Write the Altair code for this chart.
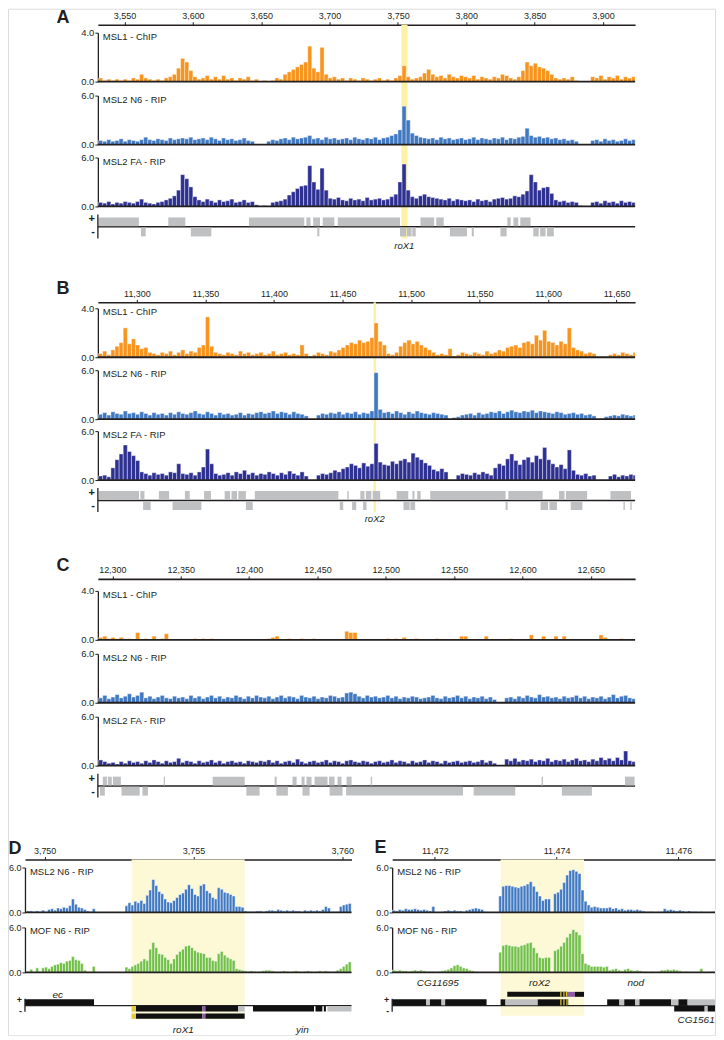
import altair as alt
import pandas as pd

FONT = "Liberation Sans"
INK = "#231F20"
ORANGE = "#F7941D"
BLUE = "#4079C2"
NAVY = "#2E3192"
GREEN = "#71BF46"
GRAY = "#BEC0C2"
HL_STRONG = "#FCF1A6"
HL_SOFT = "#FDF9D6"
KIND_COLOR = {"k": "#111111", "g": GRAY, "y": "#E2CC3B", "p": "#8E5BA8"}

# ---------------- Panel A (kb) ----------------
A_DOMAIN = [3530.5, 3923.5]
A_TICKS = [3550, 3600, 3650, 3700, 3750, 3800, 3850, 3900]
A_START, A_STEP = 3531, 3
A_HL = [3752.5, 3757.0]
A_MSL1 = [0.3,0.1,0.2,0.1,0.2,0.1,0.2,0.1,0.3,0.2,
          0.6,0.3,0.2,0.1,0.2,0.1,0.3,0.4,0.6,1.1,
          1.9,1.6,0.9,0.4,0.2,0.3,0.5,0.2,0.4,0.2,
          0.5,0.2,0.3,0.1,0.3,0.2,0.4,0.1,0.2,0.0,
          0.1,0.0,0.1,0.3,0.2,0.6,0.8,1.0,1.2,1.4,
          1.6,2.9,1.1,0.8,2.8,0.6,0.3,0.4,0.2,0.3,
          0.1,0.3,0.2,0.1,0.3,0.2,0.1,0.2,0.3,0.1,
          0.2,0.1,0.3,0.5,1.3,0.4,0.2,0.3,0.4,0.7,
          1.0,0.6,0.4,0.5,0.3,0.6,0.4,0.3,0.5,0.4,
          0.3,0.5,0.2,0.4,0.3,0.2,0.4,0.3,0.6,0.5,
          0.3,0.2,0.4,0.9,1.6,1.3,1.5,1.2,1.1,0.9,
          0.6,0.3,0.2,0.3,0.2,0.4,0.1,0.0,0.0,0.0,
          0.4,0.3,0.5,0.2,0.4,0.3,0.5,0.2,0.4,0.3,0.4]
A_N6 = [0.5,0.4,0.6,0.4,0.5,0.7,0.4,0.6,0.5,0.4,
        0.6,0.9,0.6,0.5,0.7,0.6,0.5,0.8,0.6,0.7,
        0.8,0.7,0.9,0.6,0.7,0.8,0.6,0.9,0.7,0.5,
        0.8,0.6,0.7,0.5,0.6,0.8,0.5,0.4,0.0,0.0,
        0.0,0.4,0.6,0.5,0.7,0.8,0.6,0.9,0.7,0.8,
        0.9,1.1,0.7,0.8,0.6,0.9,0.7,0.8,0.6,0.7,
        0.8,0.6,0.9,0.7,0.6,0.8,0.7,0.9,0.6,0.8,
        0.9,1.1,1.3,1.8,4.7,3.0,1.4,1.1,0.9,0.8,
        0.7,0.8,0.6,0.9,0.7,0.8,0.6,0.7,0.8,0.6,
        0.7,0.9,0.6,0.8,0.7,0.6,0.8,0.7,0.9,0.6,
        0.8,0.7,0.9,1.0,2.0,1.1,0.9,1.0,0.8,0.9,
        0.7,0.8,0.6,0.7,0.5,0.6,0.4,0.0,0.0,0.0,
        0.5,0.6,0.4,0.7,0.5,0.6,0.4,0.5,0.7,0.5,0.6]
A_FA = [0.5,0.4,0.6,0.3,0.5,0.4,0.6,0.5,0.4,0.6,
        0.9,0.5,0.4,0.3,0.5,0.6,0.8,1.0,1.3,2.0,
        3.9,3.4,2.4,1.2,0.8,0.6,0.9,0.7,0.5,0.8,
        0.6,0.7,0.9,0.5,0.6,0.8,0.5,0.6,0.2,0.0,
        0.1,0.0,0.5,0.6,0.7,0.9,1.4,1.8,2.2,2.5,
        2.6,5.0,3.0,2.1,4.7,2.0,1.0,0.9,1.1,0.8,
        0.7,1.0,0.8,0.9,0.7,1.1,0.8,0.9,1.0,0.8,
        0.9,1.2,1.5,3.0,5.2,2.0,1.2,1.0,1.3,1.5,
        1.2,1.1,1.0,0.9,0.8,1.0,0.7,0.9,0.8,0.7,
        0.8,0.6,0.9,0.7,0.8,0.6,0.9,1.0,1.1,0.9,
        1.0,1.3,1.2,1.5,1.9,3.9,3.0,2.0,2.3,2.4,
        1.6,0.8,0.6,0.7,0.5,0.6,0.5,0.1,0.0,0.0,
        0.5,0.6,0.4,0.7,0.5,0.6,0.4,0.7,0.5,0.6,0.5]
A_PLUS = [[3531,3560.5],[3582,3594.5],[3641,3681.5],[3683,3686],[3688,3693],[3695,3703.5],
          [3706,3751.5],[3766.5,3776.5],[3778,3783.5],[3830,3832.5],[3834.5,3838],[3839.5,3847]]
A_MINUS = [[3562,3565.5],[3598.5,3613.5],[3691,3692.5],[3751.5,3756],[3756.5,3760],[3760.5,3763],
           [3788,3800.5],[3804,3805.5],[3825,3829.5],[3849,3853],[3854,3858],[3859,3864]]
A_NAMES = [["roX1", 3754.7, "below"]]

# ---------------- Panel B (kb) ----------------
B_DOMAIN = [11271.5, 11663.5]
B_TICKS = [11300, 11350, 11400, 11450, 11500, 11550, 11600, 11650]
B_START, B_STEP = 11272, 3
B_HL = [11472.6, 11474.4]
B_MSL1 = [0.3,0.5,0.2,0.6,0.9,1.2,2.4,1.1,1.5,1.0,
          0.7,0.8,0.4,0.3,0.2,0.4,0.3,0.5,0.2,0.4,
          0.6,0.3,0.5,0.4,0.8,1.0,3.3,0.9,0.4,0.3,
          0.2,0.4,0.3,0.2,0.5,0.3,0.4,0.2,0.3,0.4,
          0.2,0.3,0.5,0.2,0.3,0.4,0.2,0.3,0.2,1.0,
          0.3,0.1,0.2,0.4,0.3,0.2,0.5,0.4,0.6,0.8,
          1.0,1.2,1.1,1.4,1.2,1.3,1.6,2.8,1.3,1.0,
          0.3,0.2,0.4,0.9,1.2,1.4,1.1,1.3,1.0,0.8,
          0.6,0.4,0.2,0.3,0.2,0.7,0.1,0.2,0.4,0.3,
          0.2,0.4,0.3,0.2,0.5,0.3,0.4,0.6,0.5,0.8,
          0.9,1.0,0.8,1.2,1.3,1.1,1.8,1.4,2.2,1.3,
          1.2,1.0,1.3,1.1,2.4,0.8,0.6,0.5,0.3,0.4,
          0.3,0.0,0.0,0.0,0.2,0.3,0.2,0.4,0.3,0.2,0.4]
B_N6 = [0.6,0.8,0.5,0.9,0.7,0.6,1.0,0.7,0.8,0.6,
        0.9,0.7,0.5,0.8,0.6,0.7,0.5,0.8,0.6,0.9,
        0.7,0.6,0.8,1.0,0.7,0.6,0.9,0.7,0.5,0.8,
        0.6,0.7,0.5,0.6,0.8,0.5,0.7,0.6,0.8,0.9,
        0.7,0.8,1.0,0.7,0.9,0.8,0.6,0.9,0.7,0.6,
        0.4,0.0,0.0,0.5,0.7,0.6,0.8,0.7,0.9,0.6,
        0.8,0.7,0.9,0.6,0.8,0.7,1.0,5.7,1.2,0.8,
        0.9,0.7,1.0,0.8,0.6,0.9,0.7,1.0,0.8,0.7,
        0.6,0.8,0.7,0.6,0.5,0.0,0.2,0.3,0.5,0.6,
        0.7,0.5,0.8,0.6,0.7,0.9,0.8,1.0,0.7,0.9,
        1.1,0.9,0.8,1.0,0.9,1.1,0.8,1.0,0.9,0.8,
        0.7,0.9,0.8,0.6,0.7,0.8,0.6,0.7,0.5,0.6,
        0.4,0.0,0.0,0.3,0.4,0.5,0.4,0.6,0.5,0.4,0.5]
B_FA = [0.5,0.6,0.4,1.5,2.5,3.2,4.3,3.5,3.0,2.4,
        1.0,0.8,0.6,0.9,0.7,0.8,0.6,1.0,0.9,2.0,
        0.8,0.7,0.9,0.6,1.0,1.6,3.8,2.0,0.8,0.6,
        0.7,0.9,0.6,1.0,0.8,1.2,0.7,0.9,0.6,0.8,
        0.7,1.0,0.8,0.6,0.9,0.7,1.1,0.8,0.6,1.0,
        0.5,0.0,0.0,0.6,0.8,0.7,0.9,1.2,1.0,1.4,
        1.6,2.0,1.8,1.5,2.1,1.7,2.0,4.5,2.2,1.9,
        1.8,2.3,2.0,2.4,2.6,2.2,3.3,2.8,2.5,2.1,
        1.8,1.3,1.1,1.4,1.0,0.0,0.0,0.6,0.8,0.7,
        0.6,0.9,0.7,1.0,0.8,0.6,1.5,2.0,1.8,2.6,
        3.2,2.4,1.9,2.5,2.8,2.2,3.0,2.6,4.0,2.5,
        2.0,1.6,1.9,1.4,3.7,1.2,0.7,0.6,0.8,0.5,
        0.6,0.0,0.0,0.0,0.5,0.7,0.4,0.6,0.5,0.7,0.6]
B_PLUS = [[11272,11301.5],[11302.5,11305.5],[11316,11323.5],[11335,11338.5],[11349,11354],
          [11364,11368],[11369,11373],[11374,11379.5],[11386,11447],[11453.5,11454.5],
          [11463,11466],[11467,11471],[11472,11477.5],[11489.5,11498],[11501,11502.5],
          [11504.5,11507],[11514,11569],[11571,11596],[11608,11612],[11613,11628.5],[11645.5,11660.5]]
B_MINUS = [[11304.5,11310],[11326,11347],[11379.5,11384.5],[11448,11450.5],[11457,11460],
           [11465,11467.5],[11494.5,11499],[11499.5,11503],[11569,11570.5],[11594.5,11600],
           [11601,11606.5],[11616.5,11625],[11655,11656],[11660,11661]]
B_NAMES = [["roX2", 11473.5, "below"]]

# ---------------- Panel C (kb) ----------------
C_DOMAIN = [12289.4, 12682.4]
C_TICKS = [12300, 12350, 12400, 12450, 12500, 12550, 12600, 12650]
C_START, C_STEP = 12290, 3
C_MSL1 = [0.2,0.3,0.1,0.2,0.1,0.2,0.0,0.1,0.0,0.6,
          0.0,0.1,0.0,0.3,0.0,0.1,0.5,0.0,0.0,0.0,
          0.0,0.0,0.0,0.1,0.0,0.1,0.0,0.1,0.0,0.0,
          0.0,0.0,0.0,0.0,0.0,0.0,0.0,0.0,0.0,0.0,
          0.0,0.1,0.2,0.3,0.0,0.0,0.1,0.0,0.0,0.1,
          0.0,0.0,0.1,0.0,0.0,0.0,0.0,0.0,0.0,0.0,
          0.7,0.6,0.6,0.0,0.0,0.0,0.0,0.0,0.0,0.0,
          0.1,0.0,0.1,0.0,0.2,0.0,0.0,0.1,0.0,0.0,
          0.0,0.0,0.1,0.0,0.0,0.0,0.0,0.0,0.3,0.3,
          0.0,0.0,0.0,0.0,0.3,0.0,0.0,0.0,0.0,0.0,
          0.1,0.0,0.0,0.0,0.0,0.4,0.0,0.0,0.3,0.0,
          0.0,0.3,0.0,0.3,0.0,0.0,0.0,0.0,0.0,0.0,
          0.0,0.0,0.4,0.2,0.0,0.0,0.0,0.1,0.0,0.0,0.0]
C_N6 = [0.6,0.9,0.5,0.7,1.0,0.6,0.8,1.1,0.7,0.9,
        1.3,0.6,0.8,0.5,0.7,0.9,0.6,0.5,0.8,0.6,
        0.7,0.5,0.9,0.6,0.8,0.5,0.7,0.9,0.6,0.8,
        0.5,0.7,0.6,0.9,0.7,0.5,0.8,0.6,0.9,0.7,
        0.6,0.8,0.5,0.7,0.9,0.6,0.8,0.7,0.5,0.9,
        0.7,0.6,0.8,0.5,0.7,0.6,0.9,0.8,0.6,0.7,
        1.2,1.3,1.1,0.8,0.6,0.9,0.7,0.8,0.6,0.7,
        0.9,0.6,0.8,0.5,0.7,0.6,0.8,0.7,0.5,0.6,
        0.7,0.9,0.6,0.5,0.8,0.6,0.7,0.9,0.6,0.8,
        0.5,0.7,0.6,0.8,0.5,0.7,0.4,0.0,0.0,0.6,
        0.7,0.5,0.8,0.6,0.9,0.7,0.6,1.0,0.7,0.8,
        0.6,0.7,0.5,0.8,0.6,0.7,0.9,0.6,0.8,0.5,
        0.7,0.6,0.8,0.5,0.7,1.0,0.6,0.8,0.9,0.6,0.5]
C_FA = [0.7,0.5,0.3,0.4,0.2,0.5,0.3,0.6,0.4,0.5,
        0.3,0.6,0.4,0.7,0.5,0.3,0.6,0.4,0.5,0.9,
        0.4,0.6,0.5,0.3,0.6,0.4,0.5,0.7,0.4,0.6,
        0.3,0.5,0.6,0.4,0.5,0.3,0.6,0.5,0.4,0.6,
        0.5,0.7,0.4,0.6,0.3,0.5,0.6,0.4,0.8,0.5,
        0.3,0.5,0.6,0.4,0.5,0.7,0.4,0.6,0.5,0.3,
        0.6,0.7,0.5,0.4,0.6,0.5,0.3,0.5,0.6,0.4,
        0.5,0.7,0.4,0.6,0.5,0.3,0.6,0.4,0.5,0.7,
        0.4,0.6,0.5,0.3,0.6,0.4,0.5,0.6,0.4,0.5,
        0.6,0.4,0.5,0.7,0.4,0.6,0.3,0.0,0.0,0.8,
        0.6,0.9,0.5,0.7,0.6,0.8,0.5,0.7,0.6,0.9,
        0.5,0.7,0.6,0.8,0.5,0.7,0.9,0.6,0.7,0.5,
        0.8,0.6,1.0,0.7,0.9,0.6,1.0,0.7,1.8,0.6,0.5]
C_PLUS = [[12293,12296],[12296.7,12299.6],[12300.4,12306.2],[12337.6,12338.5],[12373.4,12396.8],
          [12418.7,12420.2],[12431.8,12434.8],[12438.4,12440.6],[12442,12445.7],[12447.9,12457.4],
          [12458.5,12462.5],[12464.7,12467.6],[12471.3,12475],[12489,12490],[12614,12615],[12675,12682]]
C_MINUS = [[12290.9,12294.5],[12306.7,12320],[12322,12326],[12398,12407.7],[12420,12428.4],
           [12439.1,12444.3],[12458.9,12468.4],[12471,12556.5],[12564.3,12594.7],[12628.8,12650.8]]
C_NAMES = []

# ---------------- Panel D (kb) ----------------
D_DOMAIN = [3749.34, 3760.31]
D_TICKS = [3750, 3755, 3760]
D_START, D_STEP = 3749.4, 0.1
D_HL = [3752.92, 3756.72]
D_N6 = [0.2,0.2,0.1,0.2,0.1,0.3,0.1,0.4,0.5,0.3,
        0.6,0.5,0.7,0.6,0.9,1.8,1.1,0.7,0.6,0.4,
        0.2,0.1,0.5,0.0,0.0,0.0,0.0,0.0,0.0,0.0,
        0.0,0.0,0.0,0.9,1.3,1.0,1.5,1.3,1.6,1.2,
        2.3,3.0,4.4,3.6,2.8,2.5,1.8,1.4,1.3,1.6,
        2.0,2.4,2.6,3.1,3.7,3.2,2.4,2.2,3.6,3.8,
        2.9,2.6,2.0,1.8,3.3,3.1,2.7,2.6,2.4,2.2,
        0.8,0.8,0.7,0.2,0.1,0.1,0.1,0.2,0.2,0.1,
        0.2,0.3,0.3,0.2,0.4,0.3,0.2,0.3,0.2,0.3,
        0.2,0.2,0.1,0.3,0.2,0.3,0.2,0.3,0.2,0.4,
        0.8,0.6,0.1,0.1,0.1,0.8,1.0,1.1,1.2]
D_MOF = [0.1,0.4,0.0,0.6,0.1,0.6,0.7,0.5,0.8,1.0,
         1.1,1.3,1.2,1.5,1.6,2.1,1.7,1.6,1.2,0.3,
         0.1,0.0,0.8,0.0,0.0,0.0,0.0,0.0,0.0,0.0,
         0.0,0.0,0.0,0.7,0.5,0.8,1.0,1.2,1.5,1.8,
         1.6,3.1,4.0,3.3,2.5,2.4,2.0,1.7,1.2,1.8,
         2.4,2.8,3.1,3.5,3.6,3.3,2.9,2.7,2.6,2.5,
         2.0,2.0,1.6,1.5,2.5,2.8,2.3,2.0,1.8,1.6,
         0.5,0.4,0.3,0.2,0.1,0.2,0.1,0.0,0.1,0.2,
         0.3,0.3,0.2,0.1,0.0,0.1,0.2,0.1,0.0,0.1,
         0.2,0.1,0.0,0.1,0.2,0.1,0.0,0.1,0.2,0.1,
         0.2,0.1,0.0,0.1,0.3,0.5,0.8,1.1,1.4]
D_GENES = [["plus", 3749.34, 3751.66, "k"],
           ["minus", 3752.92, 3753.07, "y"], ["minus", 3753.07, 3755.3, "k"],
           ["minus", 3755.3, 3755.4, "p"], ["minus", 3755.4, 3756.5, "k"],
           ["minus", 3756.5, 3756.72, "g"],
           ["iso", 3752.92, 3753.07, "y"], ["iso", 3753.07, 3755.3, "k"],
           ["iso", 3755.3, 3755.4, "p"], ["iso", 3755.4, 3756.72, "k"],
           ["minus", 3757.0, 3759.05, "k"], ["minus", 3759.1, 3759.33, "k"],
           ["minus", 3759.38, 3759.45, "k"], ["minus", 3759.5, 3760.31, "g"]]
D_NAMES = [["ec", 3750.44, "above"], ["roX1", 3754.66, "below"], ["yin", 3758.66, "below"]]

# ---------------- Panel E (kb) ----------------
E_DOMAIN = [11471.3, 11476.6]
E_TICKS = [11472, 11474, 11476]
E_START, E_STEP = 11471.3, 0.05
E_HL = [11473.08, 11474.45]
E_N6 = [0.3,0.2,0.4,0.3,0.5,0.4,0.4,0.5,0.4,0.3,
        0.4,0.3,0.2,0.8,0.0,0.0,0.1,0.2,0.3,0.2,
        0.3,0.2,0.2,0.1,0.3,0.4,0.5,0.6,0.5,0.4,
        0.1,0.0,0.0,0.0,0.0,2.2,3.5,3.6,3.6,3.5,
        3.4,3.3,3.5,3.6,3.8,4.1,3.5,2.8,2.2,1.6,
        1.8,1.8,0.0,2.5,2.7,3.1,4.0,5.0,5.6,5.7,
        5.5,5.2,3.0,1.5,1.0,0.7,0.8,0.7,0.6,0.6,
        0.6,0.7,0.5,0.6,0.4,0.5,0.3,0.4,0.4,0.3,
        0.4,0.3,0.2,0.1,0.1,0.1,0.0,0.1,0.1,0.5,
        0.3,0.4,0.3,0.2,0.3,0.2,0.1,0.2,0.1,0.1,
        0.0,0.1,0.0,0.0,0.0,0.1,0.4]
E_MOF = [0.3,0.2,0.3,0.2,0.2,0.1,0.2,0.3,0.2,0.3,
         0.2,0.1,0.1,0.1,0.0,0.1,0.2,0.3,0.4,0.6,
         0.9,1.0,0.8,0.6,0.5,0.3,0.2,0.1,0.0,0.0,
         0.0,0.0,0.0,0.0,0.0,2.7,3.6,3.7,3.6,3.5,
         3.5,3.4,3.6,3.7,3.9,4.0,3.3,2.6,2.0,1.9,
         2.0,2.0,0.0,2.9,3.1,3.5,4.0,4.7,5.2,5.7,
         5.4,5.0,2.5,1.2,1.0,0.8,0.8,0.8,0.8,0.7,
         0.8,0.3,0.4,0.5,0.3,0.2,0.4,0.5,0.3,0.2,
         0.3,0.2,0.1,0.1,0.0,0.1,0.0,0.1,0.3,0.3,
         0.4,0.3,0.4,0.3,0.2,0.0,0.1,0.0,0.0,0.0,
         0.0,0.5,0.0,0.0,0.1,0.1,0.1]
E_GENES = [["plus", 11471.3, 11471.86, "k"], ["plus", 11471.86, 11471.92, "g"],
           ["plus", 11471.92, 11472.11, "k"], ["plus", 11472.11, 11472.17, "g"],
           ["plus", 11472.17, 11472.85, "k"],
           ["plus", 11473.08, 11473.16, "k"], ["plus", 11473.16, 11473.69, "g"],
           ["plus", 11473.69, 11474.19, "k"], ["plus", 11474.06, 11474.08, "y"],
           ["plus", 11474.11, 11474.13, "y"], ["plus", 11474.16, 11474.18, "y"],
           ["plus", 11474.83, 11475.03, "k"], ["plus", 11475.03, 11475.11, "g"],
           ["plus", 11475.11, 11475.29, "k"], ["plus", 11475.29, 11475.36, "g"],
           ["plus", 11475.36, 11475.88, "k"], ["plus", 11475.88, 11476.0, "g"],
           ["plus", 11476.0, 11476.15, "k"], ["plus", 11476.15, 11476.6, "g"],
           ["minus", 11475.93, 11476.43, "k"], ["minus", 11476.43, 11476.48, "g"],
           ["minus", 11476.48, 11476.6, "k"],
           ["up", 11473.19, 11474.17, "k"], ["up", 11474.06, 11474.08, "y"],
           ["up", 11474.11, 11474.13, "y"], ["up", 11474.15, 11474.17, "y"],
           ["up", 11474.17, 11474.3, "p"], ["up", 11474.3, 11474.45, "k"]]
E_NAMES = [["CG11695", 11472.05, "names"], ["roX2", 11473.72, "names"],
           ["nod", 11475.3, "names"], ["CG1561", 11476.29, "below"]]

# ---------------- layout (page pixels; chart origin sits at page 8,8) ----------------
ORIGIN = 8
W, H = 708, 1028


def c(p):
    return p - ORIGIN


def scale(domain, rng):
    return alt.Scale(domain=domain, range=rng, nice=False, zero=False, clamp=True)


def top_axis(ticks, axis_y):
    return alt.Axis(orient="top", offset=-axis_y, values=ticks, format=",.0f", title=None,
                    grid=False, domain=True, domainColor=INK, domainWidth=1.6,
                    ticks=True, tickColor=INK, tickSize=3, tickWidth=1,
                    labelFont=FONT, labelFontSize=9, labelColor=INK, labelPadding=1,
                    labelFlush=False, labelOverlap=False, minExtent=0)


def left_axis(ymax, axis_x, size):
    return alt.Axis(orient="left", offset=-axis_x, values=[0, ymax], format=".1f", title=None,
                    grid=False, domain=True, domainColor=INK, domainWidth=1.3,
                    ticks=True, tickColor=INK, tickSize=3, tickWidth=1,
                    labelFont=FONT, labelFontSize=size, labelColor=INK, labelPadding=1,
                    minExtent=0, maxExtent=40)


def band(hl, domain, xr, y0, y1, color):
    X = scale(domain, xr)
    return alt.Chart(pd.DataFrame({"a": [hl[0]], "b": [hl[1]]})).mark_rect(color=color).encode(
        x=alt.X("a:Q", scale=X, axis=None), x2="b:Q", y=alt.value(y0), y2=alt.value(y1))


def track(values, start, step, domain, xr, base, top, color, ymax, label,
          ticks=None, axis_y=None, stroke_w=0.5, ylab=9.5, lab=9.5):
    n = len(values)
    df = pd.DataFrame({"s": [start + step * i for i in range(n)],
                       "e": [start + step * (i + 1) for i in range(n)],
                       "v": values, "z": [0.0] * n})
    X = scale(domain, xr)
    Y = scale([0, ymax], [base, top])
    xaxis = top_axis(ticks, axis_y) if ticks is not None else None
    bars = alt.Chart(df).mark_rect(color=color, stroke="white", strokeWidth=stroke_w).encode(
        x=alt.X("s:Q", scale=X, axis=xaxis), x2="e:Q",
        y=alt.Y("v:Q", scale=Y, axis=left_axis(ymax, xr[0], ylab)), y2="z:Q")
    ref = pd.DataFrame({"x0": [domain[0]], "x1": [domain[1]], "z": [0.0], "t": [ymax],
                        "txt": [label]})
    rule = alt.Chart(ref).mark_rule(color=INK, strokeWidth=1.8).encode(
        x=alt.X("x0:Q", scale=X, axis=None), x2="x1:Q", y=alt.Y("z:Q", scale=Y, axis=None))
    txt = alt.Chart(ref).mark_text(align="left", baseline="middle", dx=5, dy=4, font=FONT,
                                   fontSize=lab, color=INK).encode(
        x=alt.X("x0:Q", scale=X, axis=None), y=alt.Y("t:Q", scale=Y, axis=None), text="txt:N")
    return [bars, rule], [txt]


def genes(domain, xr, base, blocks, rows, line_y, vline, pm_y, pm_size, names, name_rows,
          name_size):
    X = scale(domain, xr)
    G = scale([0, 60], [base, base + 60])
    ref = pd.DataFrame({"x0": [domain[0]], "x1": [domain[1]], "y": [line_y],
                        "a": [vline[0]], "b": [vline[1]]})
    line = alt.Chart(ref).mark_rule(color=INK, strokeWidth=1.4).encode(
        x=alt.X("x0:Q", scale=X, axis=None), x2="x1:Q", y=alt.Y("y:Q", scale=G, axis=None))
    recs = []
    for row, s, e, kind in blocks:
        y1, y2 = rows[row]
        recs.append({"s": s, "e": e, "y1": y1, "y2": y2, "c": KIND_COLOR[kind]})
    rects = alt.Chart(pd.DataFrame(recs)).mark_rect().encode(
        x=alt.X("s:Q", scale=X, axis=None), x2="e:Q",
        y=alt.Y("y1:Q", scale=G, axis=None), y2="y2:Q", color=alt.Color("c:N", scale=None))
    vl = alt.Chart(ref).mark_rule(color=INK, strokeWidth=1.3).encode(
        x=alt.X("x0:Q", scale=X, axis=None), y=alt.Y("a:Q", scale=G, axis=None), y2="b:Q")
    pm = alt.Chart(pd.DataFrame({"t": ["+", "-"], "y": pm_y})).mark_text(
        align="right", baseline="middle", font=FONT, fontSize=pm_size, fontWeight="bold",
        color=INK).encode(x=alt.value(xr[0] - 3), y=alt.Y("y:Q", scale=G, axis=None), text="t:N")
    out = [line, rects, vl, pm]
    if names:
        nd = pd.DataFrame([{"t": n[0], "x": n[1], "y": name_rows[n[2]]} for n in names])
        out.append(alt.Chart(nd).mark_text(align="center", baseline="middle", font=FONT,
                                           fontSize=name_size, fontStyle="italic",
                                           color=INK).encode(
            x=alt.X("x:Q", scale=X, axis=None), y=alt.Y("y:Q", scale=G, axis=None), text="t:N"))
    return out


def letter(t, x, y):
    return alt.Chart(pd.DataFrame({"t": [t]})).mark_text(
        align="center", baseline="alphabetic", font=FONT, fontSize=18, fontWeight="bold",
        color=INK).encode(x=alt.value(x), y=alt.value(y), text="t:N")


ROWS_ABC = {"plus": (11, 19.8), "minus": (21, 30)}
NAME_ABC = {"below": 39.5}
XR_ABC = [c(98), c(636)]

under, over = [], []


def big_panel(let, let_base, domain, ticks, start, step, msl1, n6, fa, plus, minus, names,
              hl, axis_p, bases_p):
    axis_y = c(axis_p)
    b1, b2, b3 = [c(b) for b in bases_p]
    if hl is not None:
        under.append(band(hl, domain, XR_ABC, axis_y, b3 + 32, HL_STRONG))
    specs = [(msl1, b1, ORANGE, 4.0, "MSL1 - ChIP", ticks),
             (n6, b2, BLUE, 6.0, "MSL2 N6 - RIP", None),
             (fa, b3, NAVY, 6.0, "MSL2 FA - RIP", None)]
    for vals, b, col, ymax, lab, tk in specs:
        u, o = track(vals, start, step, domain, XR_ABC, b, b - 49, col, ymax, lab,
                     ticks=tk, axis_y=axis_y, stroke_w=0.4)
        under.extend(u)
        over.extend(o)
    blocks = [["plus", s, e, "g"] for s, e in plus] + [["minus", s, e, "g"] for s, e in minus]
    over.extend(genes(domain, XR_ABC, b3, blocks, ROWS_ABC, 20.4, (8, 32), [13, 26], 11,
                      names, NAME_ABC, 9.5))
    over.append(letter(let, c(63), c(let_base)))


big_panel("A", 22.5, A_DOMAIN, A_TICKS, A_START, A_STEP, A_MSL1, A_N6, A_FA,
          A_PLUS, A_MINUS, A_NAMES, A_HL, 24, (81, 144, 206))
big_panel("B", 294, B_DOMAIN, B_TICKS, B_START, B_STEP, B_MSL1, B_N6, B_FA,
          B_PLUS, B_MINUS, B_NAMES, B_HL, 302, (357, 419, 480))
big_panel("C", 571.5, C_DOMAIN, C_TICKS, C_START, C_STEP, C_MSL1, C_N6, C_FA,
          C_PLUS, C_MINUS, C_NAMES, None, 579, (640, 703, 766))

# panels D and E
AX_DE = c(860)
B1_DE, B2_DE = c(913), c(973)
XR_D = [c(25), c(352)]
XR_E = [c(392.7), c(716)]
for dom, xr, hl, n6, mof, start, step, ticks, hl_bottom in [
        (D_DOMAIN, XR_D, D_HL, D_N6, D_MOF, D_START, D_STEP, D_TICKS, 47),
        (E_DOMAIN, XR_E, E_HL, E_N6, E_MOF, E_START, E_STEP, E_TICKS, 43.5)]:
    under.append(band(hl, dom, xr, AX_DE, B2_DE + hl_bottom, HL_SOFT))
    for vals, b, col, lab, tk in [(n6, B1_DE, BLUE, "MSL2 N6 - RIP", ticks),
                                  (mof, B2_DE, GREEN, "MOF N6 - RIP", None)]:
        u, o = track(vals, start, step, dom, xr, b, b - 45, col, 6.0, lab, ticks=tk,
                     axis_y=AX_DE, stroke_w=0.5, ylab=9, lab=9.5)
        under.extend(u)
        over.extend(o)

over.extend(genes(D_DOMAIN, XR_D, B2_DE, D_GENES,
                  {"plus": (27, 33), "minus": (33.7, 39.2), "iso": (41.3, 46.5)},
                  33.3, (26.5, 39.5), [28, 38.5], 9, D_NAMES,
                  {"above": 22.5, "below": 57.5}, 10))
over.extend(genes(E_DOMAIN, XR_E, B2_DE, E_GENES,
                  {"up": (19.5, 24.5), "plus": (27, 33), "minus": (33.7, 39.2)},
                  33.3, (26.5, 39.5), [28, 38.5], 9, E_NAMES,
                  {"names": 10.3, "below": 47.5}, 10))
over.append(letter("D", c(15), c(854.5)))
over.append(letter("E", c(381), c(853)))

chart = (alt.layer(*(under + over))
         .resolve_scale(x="independent", y="independent")
         .resolve_axis(x="independent", y="independent")
         .properties(width=W, height=H, padding=0, background="white")
         .configure_view(stroke=None)
         .configure(font=FONT))

chart.save("out.html", embed_options={"renderer": "svg", "actions": False})
